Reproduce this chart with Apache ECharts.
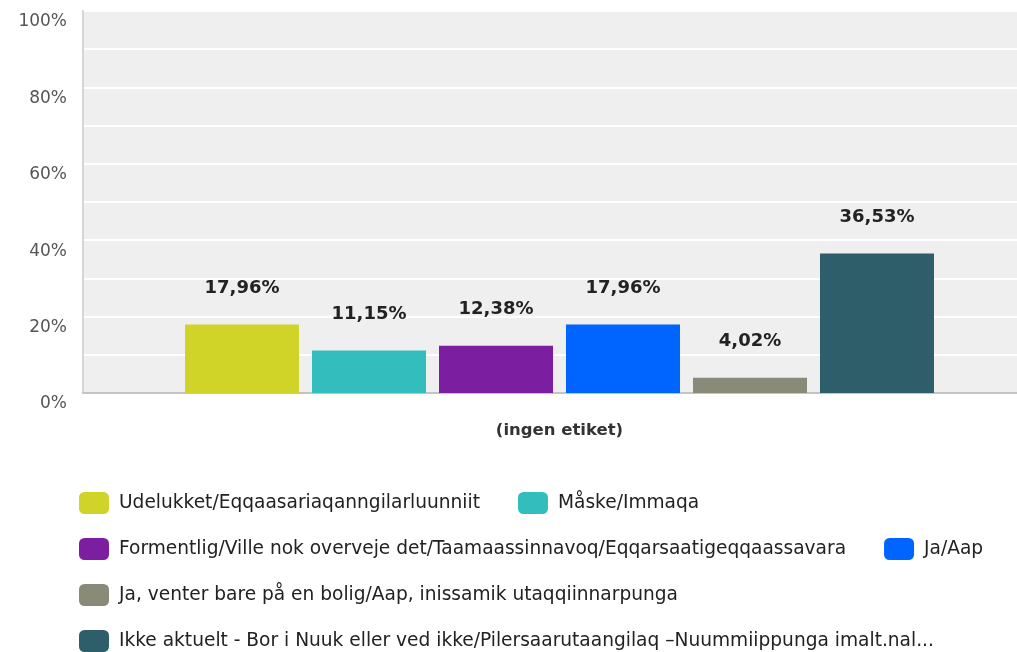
<!DOCTYPE html>
<html>
<head>
<meta charset="utf-8">
<script src="https://cdn.jsdelivr.net/npm/echarts@6/dist/echarts.min.js"></script>
<style>
  html, body { margin: 0; padding: 0; background: #fff; }
  #chart { width: 1017px; height: 652px; }
</style>
</head>
<body>
<div id="chart"></div>
<script>
const categories = ['(ingen etiket)']
const answers = [
  'Udelukket/Eqqaasariaqanngilarluunniit',
  'Måske/Immaqa',
  'Formentlig/Ville nok overveje det/Taamaassinnavoq/Eqqarsaatigeqqaassavara',
  'Ja/Aap',
  'Ja, venter bare på en bolig/Aap, inissamik utaqqiinnarpunga',
  'Ikke aktuelt - Bor i Nuuk eller ved ikke/Pilersaarutaangilaq –Nuummiippunga imalt.nal...'
]
const shares = [17.96, 11.15, 12.38, 17.96, 4.02, 36.53]
const yTicks = [0, 20, 40, 60, 80, 100]

const palette = ['#d0d428', '#33bdbd', '#7b1fa0', '#0064fe', '#898a77', '#2e5e6a']

// legend rows, like the google forms layout
const legendRows = [[0, 1], [2, 3], [4], [5]]

const FONT = '"DejaVu Sans", Arial, sans-serif'

const chart = echarts.init(document.getElementById('chart'))

const seriesList = answers.map((name, i) => ({
  name,
  type: 'bar',
  barWidth: 114,
  barGap: '11.4%',
  itemStyle: { color: palette[i] },
  label: {
    show: true,
    position: 'top',
    distance: 27,
    color: '#222',
    fontWeight: 'bold',
    fontSize: 18,
    fontFamily: FONT,
    formatter: (p) => p.value.toFixed(2).replace('.', ',') + '%'
  },
  data: [shares[i]]
}))

const option = {
  animation: false,
  textStyle: { fontFamily: FONT },
  grid: {
    left: 83,
    right: -19,
    top: 11,
    bottom: 259,
    show: true,
    backgroundColor: '#efefef',
    borderWidth: 0,
    outerBoundsMode: 'none'
  },
  legend: legendRows.map((row, r) => ({
    data: row.map((k) => answers[k]),
    left: 79,
    top: 492 + r * 46,
    padding: 0,
    itemWidth: 30,
    itemHeight: 22,
    itemGap: 38,
    icon: 'roundRect',
    selectedMode: false,
    textStyle: { color: '#222', fontSize: 18.6, fontFamily: FONT, padding: [0, 0, 0, 5] }
  })),
  xAxis: {
    type: 'category',
    data: categories,
    axisTick: { show: false },
    axisLine: { lineStyle: { color: '#c4c4c4', width: 2 } },
    axisLabel: { color: '#333', fontWeight: 'bold', fontSize: 16.5, fontFamily: FONT, margin: 29 }
  },
  yAxis: {
    type: 'value',
    min: yTicks[0],
    max: yTicks[yTicks.length - 1],
    interval: 20,
    axisLine: { show: true, lineStyle: { color: '#d6d6d6', width: 2 } },
    axisTick: { show: false },
    axisLabel: {
      color: '#555',
      fontSize: 17,
      fontFamily: FONT,
      margin: 16,
      verticalAlign: 'top',
      lineHeight: 18,
      padding: [2, 0, 0, 0],
      formatter: '{value}%'
    },
    splitLine: { lineStyle: { color: '#ffffff', width: 2 } },
    minorTick: { show: false, splitNumber: 2 },
    minorSplitLine: { show: true, lineStyle: { color: '#ffffff', width: 2 } }
  },
  series: seriesList
}

chart.setOption(option)
</script>
</body>
</html>
